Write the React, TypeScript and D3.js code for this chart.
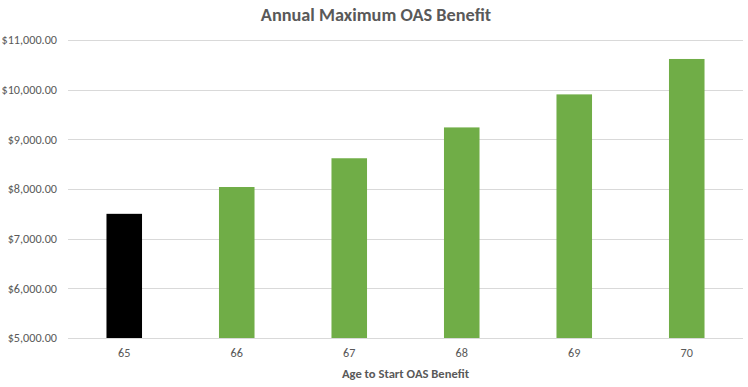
import React from "react";
import * as d3 from "d3";

const ages: string[] = ["65", "66", "67", "68", "69", "70"];
const benefits: number[] = [7500, 8040, 8619, 9240, 9905, 10618];
const barColors: string[] = ["#000000", "#70AD47", "#70AD47", "#70AD47", "#70AD47", "#70AD47"];
const yTicks: number[] = [5000, 6000, 7000, 8000, 9000, 10000, 11000];
const title = "Annual Maximum OAS Benefit";
const xTitle = "Age to Start OAS Benefit";

const W = 748;
const H = 387;
const left = 68;
const right = 743;
const top = 40;
const bottom = 338;

export default function App() {
  const x = d3.scaleBand<string>().domain(ages).range([left, right]).paddingInner(0.684).paddingOuter(0.342);
  const y = d3.scaleLinear().domain([5000, 11000]).range([bottom, top]);
  const fmt = (v: number) => "$" + d3.format(",.2f")(v);
  const font = "Calibri, Carlito, 'Liberation Sans', Arial, sans-serif";

  return (
    <svg width={W} height={H} style={{ position: "absolute", left: 0, top: 0, background: "#fff" }} fontFamily={font}>
      <rect x={0} y={0} width={W} height={H} fill="#fff" />
      <text x={376} y={15} dy="0.35em" textAnchor="middle" fontSize={18.3} fontWeight="bold" fill="#595959">
        {title}
      </text>
      {yTicks.map((t) => (
        <g key={t}>
          <line x1={left} x2={right} y1={Math.round(y(t)) + 0.5} y2={Math.round(y(t)) + 0.5} stroke="#D9D9D9" strokeWidth={1} />
          <text x={57} y={y(t)} dy="0.35em" textAnchor="end" fontSize={12.2} fill="#595959">
            {fmt(t)}
          </text>
        </g>
      ))}
      {ages.map((a, i) => (
        <rect
          key={a}
          x={x(a)!}
          y={y(benefits[i])}
          width={x.bandwidth()}
          height={y(5000) - y(benefits[i])}
          fill={barColors[i]}
        />
      ))}
      {ages.map((a) => (
        <text key={a} x={x(a)! + x.bandwidth() / 2} y={353} dy="0.35em" textAnchor="middle" fontSize={12.2} fill="#595959">
          {a}
        </text>
      ))}
      <text x={(left + right) / 2} y={374} dy="0.35em" textAnchor="middle" fontSize={12.6} fontWeight="bold" fill="#595959">
        {xTitle}
      </text>
    </svg>
  );
}
